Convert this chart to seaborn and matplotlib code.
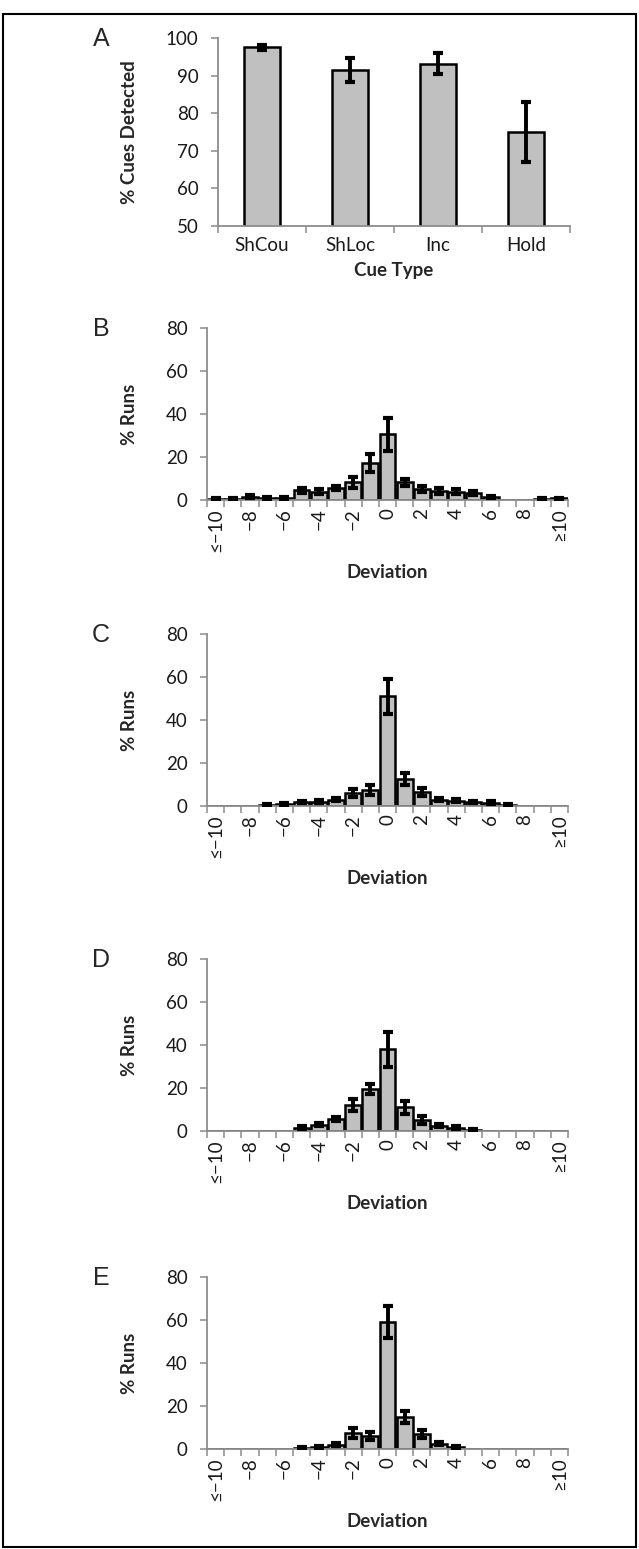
import numpy as np
import pandas as pd
import matplotlib
matplotlib.use("Agg")
import matplotlib.pyplot as plt
import seaborn as sns
from matplotlib.patches import Rectangle

sns.set_theme(style="white")
plt.rcParams['font.family'] = ['Lato', 'DejaVu Sans']

# ---- data ----
cue_types = ["ShCou", "ShLoc", "Inc", "Hold"]
cue_detected = [97.5, 91.5, 93.2, 75.0]
cue_err = [0.7, 3.3, 2.8, 8.0]

deviations = list(range(-10, 11))
dev_labels = ["≤−10", "", "−8", "", "−6", "", "−4", "", "−2", "", "0",
              "", "2", "", "4", "", "6", "", "8", "", "≥10"]

runs_B = [0.5, 0.4, 1.5, 1.0, 1.0, 4.5, 3.8, 5.5, 8.3, 17.0, 30.5,
          8.2, 5.0, 4.2, 3.8, 3.3, 1.3, 0.0, 0.0, 0.5, 0.7]
err_B = [0.4, 0.3, 0.8, 0.5, 0.5, 1.3, 1.2, 1.0, 2.5, 4.2, 7.5,
         1.8, 1.5, 1.2, 1.2, 1.0, 0.6, 0.0, 0.0, 0.3, 0.4]

runs_C = [0.0, 0.0, 0.0, 0.4, 1.0, 1.8, 2.0, 3.0, 6.0, 7.5, 51.0,
          12.5, 6.5, 3.0, 2.5, 1.8, 1.5, 0.5, 0.0, 0.0, 0.0]
err_C = [0.0, 0.0, 0.0, 0.3, 0.5, 0.6, 0.7, 0.8, 1.8, 2.2, 8.3,
         2.8, 1.8, 0.8, 0.8, 0.6, 0.6, 0.3, 0.0, 0.0, 0.0]

runs_D = [0.0, 0.0, 0.0, 0.0, 0.0, 1.5, 3.0, 5.5, 12.0, 19.5, 38.0,
          11.0, 5.0, 2.5, 1.5, 0.4, 0.0, 0.0, 0.0, 0.0, 0.0]
err_D = [0.0, 0.0, 0.0, 0.0, 0.0, 0.6, 0.8, 1.0, 2.8, 2.5, 8.0,
         3.0, 1.8, 0.8, 0.6, 0.3, 0.0, 0.0, 0.0, 0.0, 0.0]

runs_E = [0.0, 0.0, 0.0, 0.0, 0.0, 0.5, 1.0, 2.0, 7.5, 6.0, 59.0,
          15.0, 7.0, 2.5, 1.0, 0.0, 0.0, 0.0, 0.0, 0.0, 0.0]
err_E = [0.0, 0.0, 0.0, 0.0, 0.0, 0.3, 0.5, 0.8, 2.5, 2.0, 7.5,
         2.8, 2.0, 0.8, 0.4, 0.0, 0.0, 0.0, 0.0, 0.0, 0.0]

# ---- figure ----
W, H = 639, 1549
fig = plt.figure(figsize=(W / 100, H / 100), dpi=100)
fig.patch.set_facecolor("white")
fig.patches.append(Rectangle((3 / W, 2 / H), (W - 6) / W, (H - 16) / H,
                             transform=fig.transFigure, fill=False,
                             edgecolor="black", linewidth=1.5))

BAR_COLOR = "#c0c0c0"
SPINE = "#8c8c8c"
FS = 13.5


def px_axes(left, right, top, bottom):
    return fig.add_axes([left / W, 1 - bottom / H, (right - left) / W, (bottom - top) / H])


def style_axes(ax, n, ylim, yticks, xlabels, rot, xlabel, ylabel, letter, top_px,
               left_px, width_px, xpad, labelpad):
    ax.set_ylim(*ylim)
    ax.set_xlim(-0.5, n - 0.5)
    for s in ["top", "right"]:
        ax.spines[s].set_visible(False)
    for s in ["left", "bottom"]:
        ax.spines[s].set_color(SPINE)
        ax.spines[s].set_linewidth(1.3)
    ax.set_yticks(yticks)
    ax.set_yticklabels([str(t) for t in yticks], fontsize=FS, color="#1a1a1a")
    ax.tick_params(axis="y", direction="out", length=5, width=1.1, color=SPINE, left=True, pad=9)
    # category boundary ticks (major, no labels) and centered labels (minor)
    ax.set_xticks(np.arange(-0.5, n, 1.0))
    ax.set_xticklabels([])
    ax.set_xticks(np.arange(n), minor=True)
    ax.set_xticklabels(xlabels, minor=True, rotation=rot, fontsize=FS, color="#1a1a1a")
    ax.tick_params(axis="x", which="major", direction="out", length=5, width=1.1, color=SPINE, bottom=True)
    ax.tick_params(axis="x", which="minor", length=0, pad=xpad, bottom=True)
    ax.set_xlabel(xlabel, fontsize=FS, fontweight="bold", labelpad=labelpad)
    ax.set_ylabel(ylabel, fontsize=FS, fontweight="bold")
    ax.yaxis.set_label_coords((138 - left_px) / width_px, 0.5)
    fig.text(110 / W, 1 - (top_px + 1) / H, letter, fontsize=18, ha="right", va="center",
             family=["Liberation Sans", "DejaVu Sans"])


def draw_bars(ax, cats, vals, errs, width):
    df = pd.DataFrame({"cat": [str(c) for c in cats], "val": vals})
    sns.barplot(data=df, x="cat", y="val", order=df["cat"].tolist(), color=BAR_COLOR,
                saturation=1, width=width, edgecolor="black", linewidth=1.8, ax=ax,
                errorbar=None)
    pos = np.arange(len(cats))
    v = np.asarray(vals, dtype=float)
    e = np.asarray(errs, dtype=float)
    m = v > 0
    ax.errorbar(pos[m], v[m], yerr=e[m], fmt="none", ecolor="black",
                elinewidth=2.8, capsize=3.8, capthick=3.0, zorder=5)


# Panel A
axA = px_axes(218, 570, 38, 226)
draw_bars(axA, cue_types, cue_detected, cue_err, width=0.4)
style_axes(axA, 4, (50, 100), [50, 60, 70, 80, 90, 100], cue_types, 0,
           "Cue Type", "% Cues Detected", "A", 38, 218, 352, 8, 6)
axA.set_ylim(50, 100)

# Deviation panels
panels = [
    ("B", runs_B, err_B, 328, 500),
    ("C", runs_C, err_C, 634, 806),
    ("D", runs_D, err_D, 959, 1131),
    ("E", runs_E, err_E, 1277, 1449),
]
for letter, vals, errs, top, bottom in panels:
    ax = px_axes(207, 568, top, bottom)
    draw_bars(ax, deviations, vals, errs, width=0.92)
    style_axes(ax, len(deviations), (0, 80), [0, 20, 40, 60, 80], dev_labels, 90,
               "Deviation", "% Runs", letter, top, 207, 361, 6, 9)
    ax.set_ylim(0, 80)

fig.savefig("out.png", dpi=100, facecolor="white")
